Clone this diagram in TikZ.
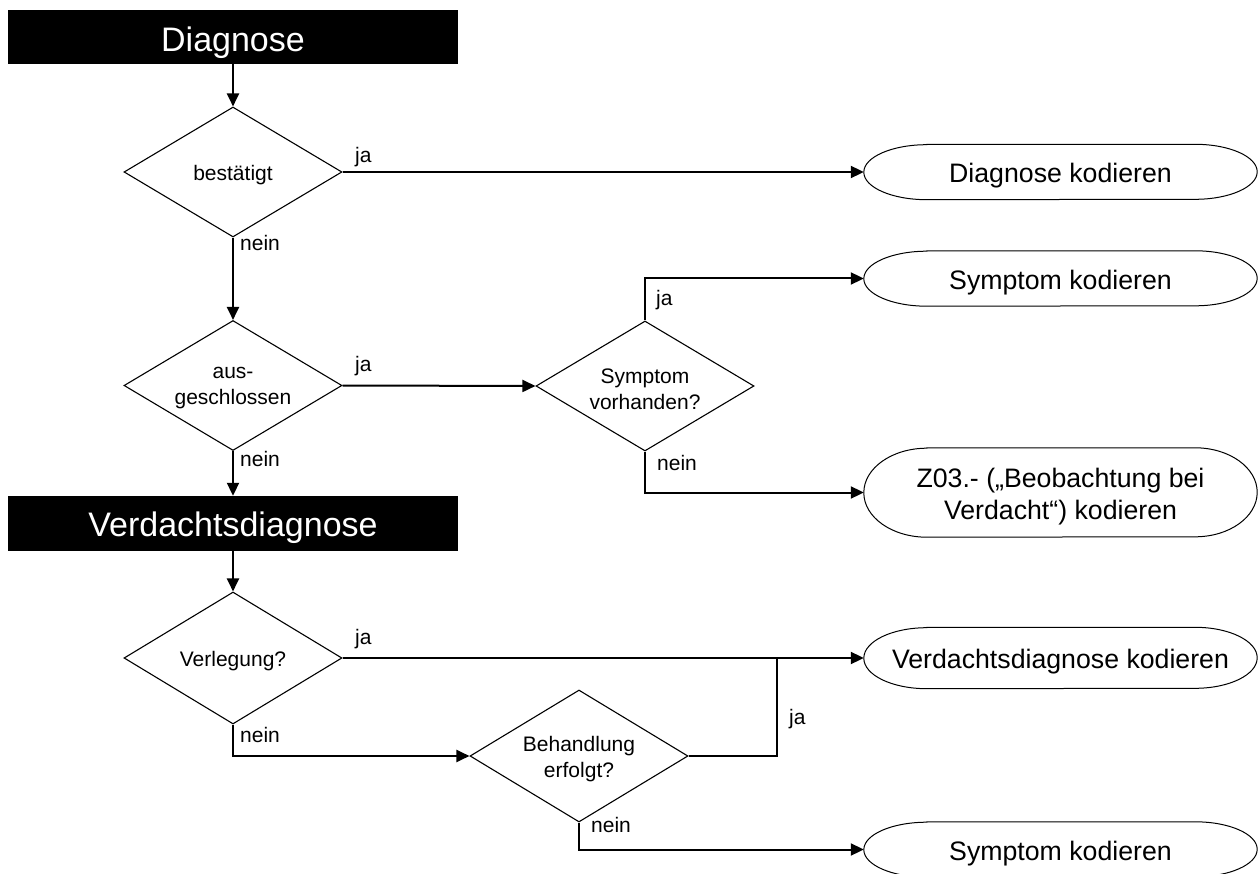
\documentclass[tikz,border=0pt]{standalone}
\usepackage{fontspec}
\setmainfont{Liberation Sans}
\usetikzlibrary{shapes.geometric,arrows.meta,calc}
\newcommand\termbox[5]{%
  \node[term, minimum height=#3pt] (#1) at (1060.5,#2) {};
  \node[termtext] (#1t) at ([yshift=-4pt]#1.center) {#5};
  \draw[line width=1pt] ([xshift=63pt]#1.north west) -- ([xshift=-62pt]#1.north east)
    arc[start angle=90, end angle=-90, x radius=62pt, y radius=#4pt]
    -- ([xshift=63pt]#1.south west)
    arc[start angle=270, end angle=90, x radius=63pt, y radius=#4pt] -- cycle;}
\begin{document}
\begin{tikzpicture}[x=1pt,y=-1pt,
  hdr/.style={fill=black, minimum width=450pt, inner sep=0pt},
  hdrtext/.style={text=white, inner sep=0pt, anchor=base, font=\fontsize{34}{40}\selectfont},
  dec/.style={diamond, draw, line width=1.1pt, minimum width=218pt, minimum height=130pt, inner sep=0pt, aspect=1.677},
  dectext/.style={inner sep=0pt, align=center, font=\fontsize{21}{26}\selectfont},
  term/.style={minimum width=393pt, inner sep=0pt},
  termtext/.style={inner sep=0pt, align=center, font=\fontsize{26.7}{32}\selectfont},
  conn/.style={line width=2pt, -{Triangle[length=13pt,width=12pt]}},
  wire/.style={line width=2pt},
  lbl/.style={font=\fontsize{21}{25}\selectfont, inner sep=0pt, anchor=base west}]
\useasboundingbox (0,0) rectangle (1258,874);

% headers
\node[hdr, minimum height=54pt] (h1) at (233,37) {};
\node[hdrtext] (h1t) at (233,52) {Diagnose};
\node[hdr, minimum height=55pt] (h2) at (233,523.5) {};
\node[hdrtext] (h2t) at (233,536) {Verdachtsdiagnose};

% decisions
\node[dec] (d1) at (233,172) {};
\node[dectext] (d1t) at ([yshift=-3pt]d1.center) {bestätigt};
\node[dec] (d2) at (233,385.5) {};
\node[dectext] (d2t) at ([yshift=-3pt]d2.center) {aus-\\geschlossen};
\node[dec] (d3) at (645,386) {};
\node[dectext] (d3t) at ([yshift=-3pt]d3.center) {Symptom\\vorhanden?};
\node[dec, minimum height=132pt] (d4) at (233,658) {};
\node[dectext] (d4t) at ([yshift=-3pt]d4.center) {Verlegung?};
\node[dec, minimum height=132pt] (d5) at (579,756) {};
\node[dectext] (d5t) at ([yshift=-3pt]d5.center) {Behandlung\\erfolgt?};

% terminals
\termbox{e1}{172}{55}{27.5}{Diagnose kodieren}
\termbox{e2}{278.5}{55}{27.5}{Symptom kodieren}
\termbox{e3}{492.5}{89}{44.5}{Z03.- („Beobachtung bei\\ Verdacht“) kodieren}
\termbox{e4}{658}{61}{30.5}{Verdachtsdiagnose kodieren}
\termbox{e5}{849.5}{55}{27.5}{Symptom kodieren}

% helper coordinates
\coordinate (c3t) at (d3.north |- e2.west);
\coordinate (c3b) at (d3.south |- e3.west);
\coordinate (c4b) at (d4.south |- d5.west);
\coordinate (c5r) at (777,756);
\coordinate (c5j) at (777,658);
\coordinate (c5b) at (d5.south |- e5.west);

% connectors
\draw[conn] (h1.south) -- (d1.north);
\draw[conn] (d1.east) -- (e1.west);
\draw[conn] (d1.south) -- (d2.north);
\draw[conn] (d2.east) -- (d3.west);
\draw[conn] (d2.south) -- (h2.north);
\draw[conn] (d3.north) -- (c3t) -- (e2.west);
\draw[conn] (d3.south) -- (c3b) -- (e3.west);
\draw[conn] (h2.south) -- (d4.north);
\draw[conn] (d4.east) -- (e4.west);
\draw[conn] (d4.south) -- (c4b) -- (d5.west);
\draw[wire] (d5.east) -- (c5r) -- (c5j);
\draw[conn] (d5.south) -- (c5b) -- (e5.west);

% labels
\node[lbl] (l1) at (355,163) {ja};
\node[lbl] (l2) at (240,251) {nein};
\node[lbl] (l3) at (355,371) {ja};
\node[lbl] (l4) at (240,466) {nein};
\node[lbl] (l5) at (656,306) {ja};
\node[lbl] (l6) at (657,470) {nein};
\node[lbl] (l7) at (355,644) {ja};
\node[lbl] (l8) at (240,742) {nein};
\node[lbl] (l9) at (789,724) {ja};
\node[lbl] (l10) at (591,832) {nein};
\end{tikzpicture}
\end{document}
